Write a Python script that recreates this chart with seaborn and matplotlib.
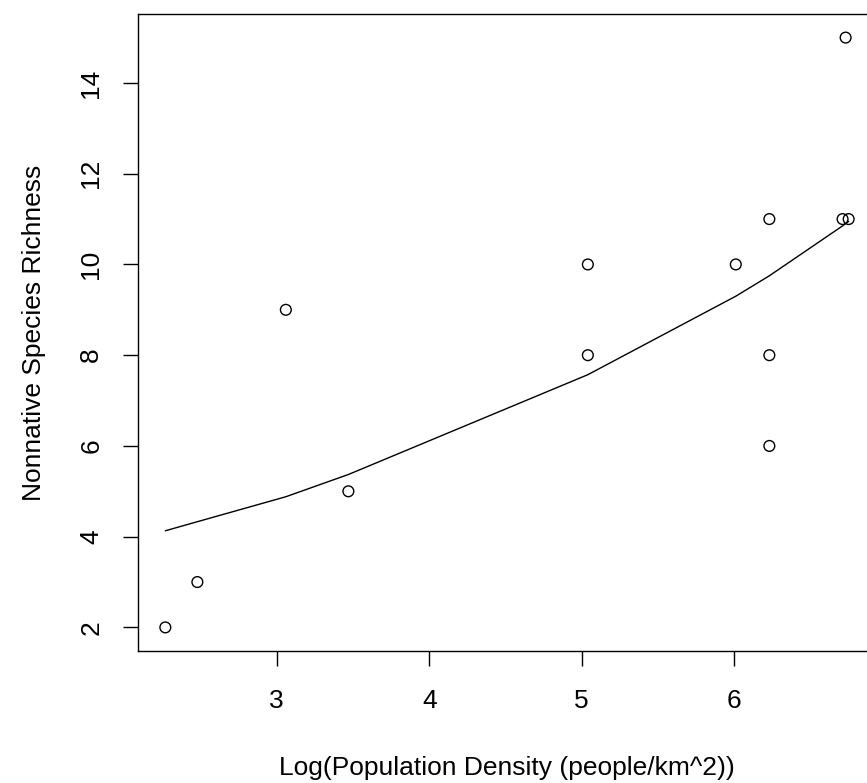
import matplotlib
matplotlib.use("Agg")
import matplotlib.pyplot as plt
import pandas as pd
import seaborn as sns

# values
log_density = [2.27, 2.48, 3.06, 3.47, 5.04, 5.04, 6.01, 6.23, 6.23, 6.23, 6.71, 6.75, 6.73]
richness = [2, 3, 9, 5, 10, 8, 10, 11, 8, 6, 11, 11, 15]

# fitted curve (poisson glm), read at each distinct x
fit_x = [2.27, 2.48, 3.06, 3.47, 5.04, 6.01, 6.23, 6.71, 6.73, 6.75]
fit_y = [4.13, 4.33, 4.88, 5.37, 7.57, 9.30, 9.75, 10.85, 10.90, 10.95]

df = pd.DataFrame({"x": log_density, "y": richness})
fit_df = pd.DataFrame({"x": fit_x, "fit": fit_y})

sns.set_style("white")
plt.rcParams['font.family'] = ['Liberation Sans', 'DejaVu Sans']
plt.rcParams['text.color'] = 'black'
plt.rcParams['xtick.color'] = 'black'
plt.rcParams['ytick.color'] = 'black'
plt.rcParams['axes.labelcolor'] = 'black'

fig = plt.figure(figsize=(8.67, 7.83), dpi=100)
ax = fig.add_axes([138/867, (783-651)/783, (876-138)/867, (651-14)/783])

sns.scatterplot(data=df, x="x", y="y", ax=ax, marker="o", s=60,
                facecolor="none", edgecolor="black", linewidth=1.0)
sns.lineplot(data=fit_df, x="x", y="fit", ax=ax, color="black",
             linewidth=1.0, estimator=None, sort=True)

# R style 4% padding
xr = df["x"].max() - df["x"].min()
yr = df["y"].max() - df["y"].min()
ax.set_xlim(df["x"].min() - 0.04*xr, df["x"].max() + 0.04*xr)
ax.set_ylim(df["y"].min() - 0.04*yr, df["y"].max() + 0.04*yr)

ax.set_xticks([3, 4, 5, 6])
ax.set_yticks([2, 4, 6, 8, 10, 12, 14])
ax.tick_params(direction="out", length=11, width=1, color="black",
               labelsize=19, bottom=True, left=True)
ax.tick_params(axis="x", pad=16)
ax.tick_params(axis="y", pad=14)
for lab in ax.get_yticklabels():
    lab.set_rotation(90)
    lab.set_va("center")

for sp in ax.spines.values():
    sp.set_color("black")
    sp.set_linewidth(1)

ax.set_xlabel("Log(Population Density (people/km^2))", fontsize=19, labelpad=31)
ax.set_ylabel("Nonnative Species Richness", fontsize=19, labelpad=24)

fig.savefig("out.png", dpi=100)
